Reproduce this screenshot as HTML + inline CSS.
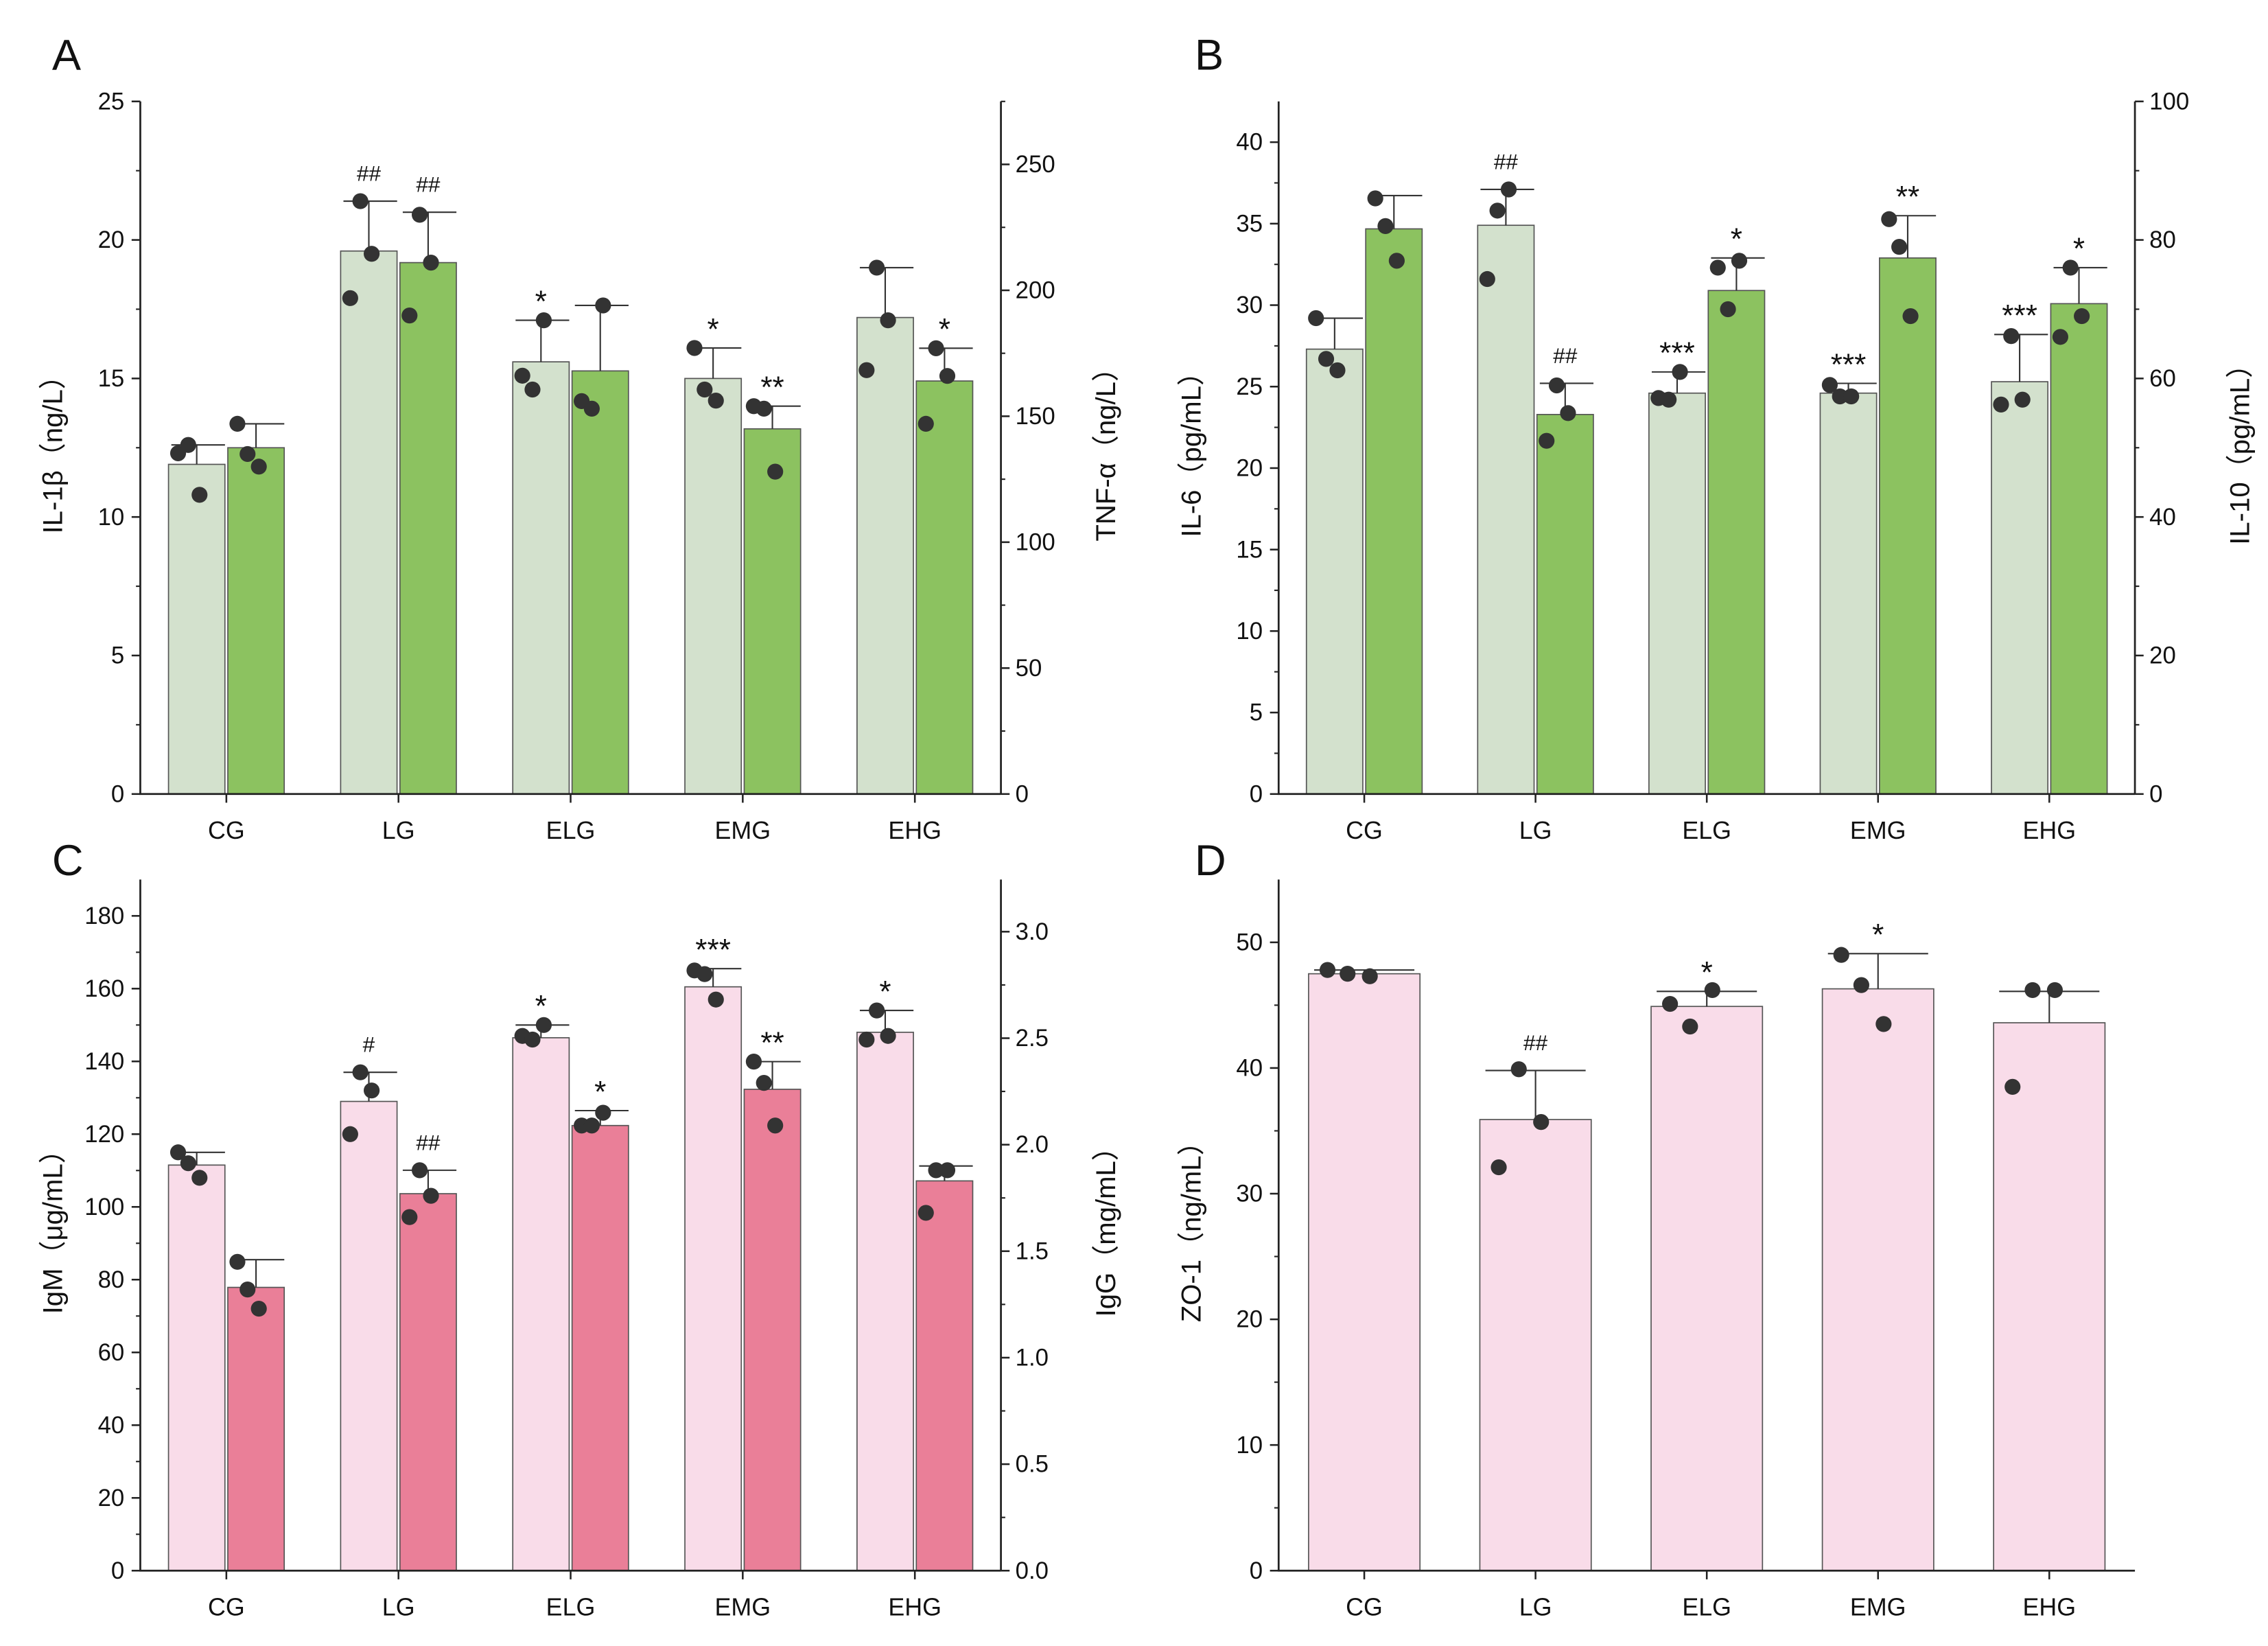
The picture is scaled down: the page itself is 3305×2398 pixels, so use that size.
<!DOCTYPE html>
<html><head><meta charset="utf-8"><style>
html,body{margin:0;padding:0;background:#fff}
svg{display:block}
text{font-family:"Liberation Sans",Arial,sans-serif;fill:#111}
</style></head><body>
<svg id="chart" width="3305" height="2398" viewBox="0 0 1568 1136" preserveAspectRatio="none" xmlns="http://www.w3.org/2000/svg"></svg>
<script>
const categories = ["CG","LG","ELG","EMG","EHG"];
// Panel A
const il1bMeans = [11.9,19.6,15.6,15.0,17.2];
const il1bErr = [12.6,21.4,17.1,16.1,19.0];
const il1bPts = [[12.3,12.6,10.8],[21.4,19.5,17.9],[17.1,15.1,14.6],[16.1,14.6,14.2],[19.0,17.1,15.3]];
const il1bSig = ["","##","*","*",""];
const tnfMeans = [137.5,211,168,145,164];
const tnfErr = [147,231,194,154,177];
const tnfPts = [[147,135,130],[230,211,190],[194,156,153],[154,153,128],[177,166,147]];
const tnfSig = ["","##","","**","*"];
// Panel B
const il6Means = [27.3,34.9,24.6,24.6,25.3];
const il6Err = [29.2,37.1,25.9,25.2,28.2];
const il6Pts = [[29.2,26.7,26.0],[35.8,37.1,31.6],[25.9,24.3,24.2],[25.1,24.4,24.4],[28.1,24.2,23.9]];
const il6Sig = ["","##","***","***","***"];
const il10Means = [81.6,54.8,72.7,77.4,70.8];
const il10Err = [86.4,59.3,77.4,83.5,76.0];
const il10Pts = [[86,82,77],[59,55,51],[77,76,70],[83,79,69],[76,69,66]];
const il10Sig = ["","##","*","**","*"];
// Panel C
const igmMeans = [111.5,129,146.5,160.5,148];
const igmErr = [115,137,150,165.5,154];
const igmPts = [[115,112,108],[137,132,120],[150,147,146],[165,164,157],[154,147,146]];
const igmSig = ["","#","*","***","*"];
const iggMeans = [1.33,1.77,2.09,2.26,1.83];
const iggErr = [1.46,1.88,2.16,2.39,1.90];
const iggPts = [[1.45,1.32,1.23],[1.88,1.76,1.66],[2.15,2.09,2.09],[2.39,2.29,2.09],[1.88,1.88,1.68]];
const iggSig = ["","##","*","**",""];
// Panel D
const zoMeans = [47.5,35.9,44.9,46.3,43.6];
const zoErr = [47.8,39.8,46.1,49.1,46.1];
const zoPts = [[47.8,47.5,47.3],[39.9,35.7,32.1],[46.2,45.1,43.3],[49.0,46.6,43.5],[46.2,46.2,38.5]];
const zoSig = ["","##","*","*",""];

const leftTicksA=[0,5,10,15,20,25], rightTicksA=[0,50,100,150,200,250];
const leftTicksB=[0,5,10,15,20,25,30,35,40], rightTicksB=[0,20,40,60,80,100];
const leftTicksC=[0,20,40,60,80,100,120,140,160,180], rightTicksC=["0.0","0.5","1.0","1.5","2.0","2.5","3.0"];
const leftTicksD=[0,10,20,30,40,50];

const svg=document.getElementById('chart');
const NS="http://www.w3.org/2000/svg";
function mk(tag,attrs,parent){const e=document.createElementNS(NS,tag);for(const k in attrs)e.setAttribute(k,attrs[k]);(parent||svg).appendChild(e);return e;}

function panel(o){
  const g=mk('g',{});
  
  
  const L=o.L,R=o.R,T=o.T,B=o.B;
  const yl=v=>B-(v/o.lmax)*(B-T);
  const yr=v=>B-(v/o.rmax)*(B-T);
  const step=(R-L)/categories.length;
  const cx=i=>L+(i+0.5)*step;
  const series=o.series;
  series.forEach((s,si)=>{
    const ys=s.axis==='r'?yr:yl;
    categories.forEach((c,i)=>{
      let x0,w;
      if(series.length===1){w=77;x0=cx(i)-w/2;}else{w=39;x0=si===0?cx(i)-40:cx(i)+1;}
      const bar=mk('rect',{x:x0,y:ys(s.means[i]),width:w,height:B-ys(s.means[i]),fill:s.color,stroke:'#555','stroke-width':0.8},g);
      
      
      const mx=x0+w/2;
      const eb=mk('path',{d:`M${mx} ${ys(s.means[i])}V${ys(s.err[i])}M${x0+w*0.05} ${ys(s.err[i])}H${x0+w*0.95+(series.length===1?0:2)}`,stroke:'#333','stroke-width':1,fill:'none'},g);
      
      
      const offs=[-0.33,-0.15,0.05];
      s.pts[i].forEach((p,k)=>{
        const d=mk('circle',{cx:mx+offs[(k+i)%3]*w,cy:ys(p),r:5.5,fill:'#333'},g);
        
        
      });
      if(s.sig[i]){
        const isHash=s.sig[i].indexOf('#')>=0;
        const t=mk('text',{x:mx,y:ys(s.err[i])-(isHash?6:-2)-8,'text-anchor':'middle','font-size':isHash?15:21},g);
        t.textContent=s.sig[i];
        
        
      }
    });
  });
  const ax=mk('path',{d:`M${L} ${T}V${B}H${R}`+(o.rmax?`M${R} ${T}V${B}`:''),stroke:'#222','stroke-width':1.3,fill:'none'},g);
  
  
  o.lt.forEach((v,k)=>{
    const y=yl(+v);
    mk('line',{x1:L-6,x2:L,y1:y,y2:y,stroke:'#222','stroke-width':1.2},g);
    const t=mk('text',{x:L-11,y:y+5.5,'text-anchor':'end','font-size':16.5},g);
    t.textContent=v;
    
    
    if(k<o.lt.length-1){const ym=yl((+o.lt[k]+ +o.lt[k+1])/2);mk('line',{x1:L-3,x2:L,y1:ym,y2:ym,stroke:'#222','stroke-width':1},g);}
  });
  if(o.rmax){
    o.rt.forEach((v,k)=>{
      const y=yr(+v);
      mk('line',{x1:R,x2:R+6,y1:y,y2:y,stroke:'#222','stroke-width':1.2},g);
      const t=mk('text',{x:R+10,y:y+5.5,'text-anchor':'start','font-size':16.5},g);
      t.textContent=v;
      
      
      const next=k<o.rt.length-1?(+o.rt[k]+ +o.rt[k+1])/2:(+v+(+o.rt[1]-+o.rt[0])/2);
      if(next<=o.rmax){const ym=yr(next);mk('line',{x1:R,x2:R+3,y1:ym,y2:ym,stroke:'#222','stroke-width':1},g);}
    });
    const rl=mk('text',{x:0,y:0,'text-anchor':'middle','font-size':19,transform:`translate(${R+79},${(T+B)/2}) rotate(-90)`},g);
    rl.textContent=o.rlabel;
    
    
  }
  categories.forEach((c,i)=>{
    mk('line',{x1:cx(i),x2:cx(i),y1:B,y2:B+6,stroke:'#222','stroke-width':1.2},g);
    const t=mk('text',{x:cx(i),y:B+31,'text-anchor':'middle','font-size':17},g);
    t.textContent=c;
    
    
  });
  const ll=mk('text',{x:0,y:0,'text-anchor':'middle','font-size':19,transform:`translate(${L-54},${(T+B)/2}) rotate(-90)`},g);
  ll.textContent=o.llabel;
  
  
  const pl=mk('text',{x:o.px,y:o.py,'font-size':30},g);
  pl.textContent=o.id;
  
  
}
const gL='#d3e1cd',gD='#8cc260',pL='#f9dce9',pD='#ea7f98';
panel({id:'A',L:97,R:692,T:70,B:548,lmax:25,rmax:275,lt:leftTicksA,rt:rightTicksA,llabel:'IL-1β（ng/L）',rlabel:'TNF-α（ng/L）',px:36,py:48,
  series:[{key:'il1b',color:gL,means:il1bMeans,err:il1bErr,pts:il1bPts,sig:il1bSig,axis:'l'},{key:'tnf',color:gD,means:tnfMeans,err:tnfErr,pts:tnfPts,sig:tnfSig,axis:'r'}]});
panel({id:'B',L:884,R:1476,T:70,B:548,lmax:42.5,rmax:100,lt:leftTicksB,rt:rightTicksB,llabel:'IL-6（pg/mL）',rlabel:'IL-10（pg/mL）',px:826,py:48,
  series:[{key:'il6',color:gL,means:il6Means,err:il6Err,pts:il6Pts,sig:il6Sig,axis:'l'},{key:'il10',color:gD,means:il10Means,err:il10Err,pts:il10Pts,sig:il10Sig,axis:'r'}]});
panel({id:'C',L:97,R:692,T:607,B:1084,lmax:190,rmax:3.245,lt:leftTicksC,rt:rightTicksC,llabel:'IgM（μg/mL）',rlabel:'IgG（mg/mL）',px:36,py:604,
  series:[{key:'igm',color:pL,means:igmMeans,err:igmErr,pts:igmPts,sig:igmSig,axis:'l'},{key:'igg',color:pD,means:iggMeans,err:iggErr,pts:iggPts,sig:iggSig,axis:'r'}]});
panel({id:'D',L:884,R:1476,T:607,B:1084,lmax:55,rmax:0,lt:leftTicksD,rt:[],llabel:'ZO-1（ng/mL）',px:826,py:604,
  series:[{key:'zo1',color:pL,means:zoMeans,err:zoErr,pts:zoPts,sig:zoSig,axis:'l'}]});
</script>
</body></html>
